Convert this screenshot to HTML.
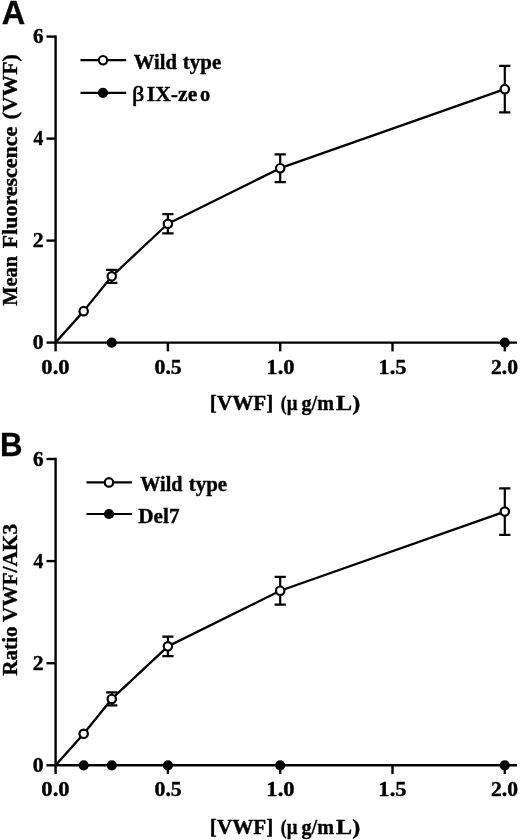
<!DOCTYPE html>
<html lang="en"><head><meta charset="utf-8"><title>Figure</title>
<style>
html,body{margin:0;padding:0;background:#fff;}
svg{display:block;filter:blur(0.35px);}
.t{font-family:"Liberation Serif","DejaVu Serif",serif;font-weight:bold;font-size:20.3px;fill:#000;stroke:#000;stroke-width:0.35px;}
.r{font-family:"Liberation Serif","DejaVu Serif",serif;font-weight:normal;font-size:20.5px;fill:#000;stroke:#000;stroke-width:0.7px;}
.d{font-family:"Liberation Serif","DejaVu Serif",serif;font-weight:bold;font-size:21px;fill:#000;stroke:#000;stroke-width:0.4px;}
.p{font-family:"Liberation Sans","DejaVu Sans",sans-serif;font-weight:bold;font-size:33px;fill:#000;stroke:#000;stroke-width:0.3px;}
</style></head><body>
<svg width="520" height="840" viewBox="0 0 520 840">
<rect width="520" height="840" fill="#fff"/>
<path d="M55.60 35.40V342.60H517" fill="none" stroke="#000" stroke-width="2.4"/>
<line x1="46.5" x2="55.60" y1="342.60" y2="342.60" stroke="#000" stroke-width="2.4"/>
<text class="d" x="32.88" y="349.40" textLength="10.83" lengthAdjust="spacingAndGlyphs">0</text>
<line x1="46.5" x2="55.60" y1="240.60" y2="240.60" stroke="#000" stroke-width="2.4"/>
<text class="d" x="32.88" y="247.40" textLength="10.83" lengthAdjust="spacingAndGlyphs">2</text>
<line x1="46.5" x2="55.60" y1="138.60" y2="138.60" stroke="#000" stroke-width="2.4"/>
<text class="d" x="33.40" y="145.40" textLength="9.80" lengthAdjust="spacingAndGlyphs">4</text>
<line x1="46.5" x2="55.60" y1="36.60" y2="36.60" stroke="#000" stroke-width="2.4"/>
<text class="d" x="32.90" y="43.40" textLength="10.55" lengthAdjust="spacingAndGlyphs">6</text>
<line x1="55.60" x2="55.60" y1="342.60" y2="351.40" stroke="#000" stroke-width="2.4"/>
<text class="d" x="41.36" y="374.30" textLength="28.17" lengthAdjust="spacingAndGlyphs">0.0</text>
<line x1="167.90" x2="167.90" y1="342.60" y2="351.40" stroke="#000" stroke-width="2.4"/>
<text class="d" x="154.48" y="374.30" textLength="27.29" lengthAdjust="spacingAndGlyphs">0.5</text>
<line x1="280.20" x2="280.20" y1="342.60" y2="351.40" stroke="#000" stroke-width="2.4"/>
<text class="d" x="266.39" y="374.30" textLength="28.14" lengthAdjust="spacingAndGlyphs">1.0</text>
<line x1="392.50" x2="392.50" y1="342.60" y2="351.40" stroke="#000" stroke-width="2.4"/>
<text class="d" x="378.39" y="374.30" textLength="28.14" lengthAdjust="spacingAndGlyphs">1.5</text>
<line x1="504.80" x2="504.80" y1="342.60" y2="351.40" stroke="#000" stroke-width="2.4"/>
<text class="d" x="490.99" y="374.30" textLength="27.03" lengthAdjust="spacingAndGlyphs">2.0</text>
<path d="M55.60 342.60L83.67 311.13L111.75 276.30L167.90 223.77L280.20 168.18L504.80 89.13" fill="none" stroke="#000" stroke-width="2.3" stroke-linejoin="round"/>
<circle cx="83.67" cy="311.13" r="4.2" fill="#fff" stroke="#000" stroke-width="2.2"/>
<path d="M106.15 269.82h11.2M106.15 282.78h11.2M111.75 269.82V282.78" fill="none" stroke="#000" stroke-width="2.2"/>
<circle cx="111.75" cy="276.30" r="4.2" fill="#fff" stroke="#000" stroke-width="2.2"/>
<path d="M162.30 214.08h11.2M162.30 233.46h11.2M167.90 214.08V233.46" fill="none" stroke="#000" stroke-width="2.2"/>
<circle cx="167.90" cy="223.77" r="4.2" fill="#fff" stroke="#000" stroke-width="2.2"/>
<path d="M274.60 154.31h11.2M274.60 182.05h11.2M280.20 154.31V182.05" fill="none" stroke="#000" stroke-width="2.2"/>
<circle cx="280.20" cy="168.18" r="4.2" fill="#fff" stroke="#000" stroke-width="2.2"/>
<path d="M499.20 65.93h11.2M499.20 112.34h11.2M504.80 65.93V112.34" fill="none" stroke="#000" stroke-width="2.2"/>
<circle cx="504.80" cy="89.13" r="4.2" fill="#fff" stroke="#000" stroke-width="2.2"/>
<circle cx="111.75" cy="342.60" r="5.1" fill="#000"/>
<circle cx="504.80" cy="342.60" r="5.1" fill="#000"/>
<line x1="80.5" x2="126.2" y1="60.2" y2="60.2" stroke="#000" stroke-width="2.2"/>
<line x1="80.5" x2="126.2" y1="92.8" y2="92.8" stroke="#000" stroke-width="2.2"/>
<circle cx="103" cy="60.2" r="4.2" fill="#fff" stroke="#000" stroke-width="2.2"/>
<circle cx="103" cy="92.8" r="5.1" fill="#000"/>
<text class="p" x="1.76" y="23.50" textLength="23.47" lengthAdjust="spacingAndGlyphs">A</text>
<text class="t" x="133.75" y="68.50" textLength="43.22" lengthAdjust="spacingAndGlyphs">Wild</text>
<text class="t" x="182.84" y="68.50" textLength="38.35" lengthAdjust="spacingAndGlyphs">type</text>
<text class="r" x="132.16" y="100.80" textLength="11.95" lengthAdjust="spacingAndGlyphs">β</text>
<text class="t" x="146.87" y="100.80" textLength="50.35" lengthAdjust="spacingAndGlyphs">IX-ze</text>
<text class="t" x="199.90" y="100.80" textLength="10.14" lengthAdjust="spacingAndGlyphs">o</text>
<text class="t" transform="translate(16.50 305.50) rotate(-90)" x="-0.25" y="0" textLength="49.83" lengthAdjust="spacingAndGlyphs">Mean</text>
<text class="t" transform="translate(16.50 248.00) rotate(-90)" x="-0.27" y="0" textLength="121.56" lengthAdjust="spacingAndGlyphs">Fluorescence</text>
<text class="t" transform="translate(16.50 118.50) rotate(-90)" x="-0.80" y="0" textLength="64.92" lengthAdjust="spacingAndGlyphs">(VWF)</text>
<text class="t" x="209.85" y="410.40" textLength="63.44" lengthAdjust="spacingAndGlyphs">[VWF]</text>
<text class="t" x="280.85" y="410.40" textLength="5.90" lengthAdjust="spacingAndGlyphs">(</text>
<text class="t" x="286.87" y="410.40" textLength="10.80" lengthAdjust="spacingAndGlyphs">µ</text>
<text class="t" x="301.55" y="410.40" textLength="32.42" lengthAdjust="spacingAndGlyphs">g/m</text>
<text class="t" x="336.10" y="410.40" textLength="24.13" lengthAdjust="spacingAndGlyphs">L)</text>
<path d="M55.60 457.80V765.30H517" fill="none" stroke="#000" stroke-width="2.4"/>
<line x1="46.5" x2="55.60" y1="765.30" y2="765.30" stroke="#000" stroke-width="2.4"/>
<text class="d" x="32.88" y="772.10" textLength="10.83" lengthAdjust="spacingAndGlyphs">0</text>
<line x1="46.5" x2="55.60" y1="663.20" y2="663.20" stroke="#000" stroke-width="2.4"/>
<text class="d" x="32.88" y="670.00" textLength="10.83" lengthAdjust="spacingAndGlyphs">2</text>
<line x1="46.5" x2="55.60" y1="561.10" y2="561.10" stroke="#000" stroke-width="2.4"/>
<text class="d" x="33.40" y="567.90" textLength="9.80" lengthAdjust="spacingAndGlyphs">4</text>
<line x1="46.5" x2="55.60" y1="459.00" y2="459.00" stroke="#000" stroke-width="2.4"/>
<text class="d" x="32.90" y="465.80" textLength="10.55" lengthAdjust="spacingAndGlyphs">6</text>
<line x1="55.60" x2="55.60" y1="765.30" y2="774.10" stroke="#000" stroke-width="2.4"/>
<text class="d" x="41.36" y="796.40" textLength="28.17" lengthAdjust="spacingAndGlyphs">0.0</text>
<line x1="167.90" x2="167.90" y1="765.30" y2="774.10" stroke="#000" stroke-width="2.4"/>
<text class="d" x="154.48" y="796.40" textLength="27.29" lengthAdjust="spacingAndGlyphs">0.5</text>
<line x1="280.20" x2="280.20" y1="765.30" y2="774.10" stroke="#000" stroke-width="2.4"/>
<text class="d" x="266.39" y="796.40" textLength="28.14" lengthAdjust="spacingAndGlyphs">1.0</text>
<line x1="392.50" x2="392.50" y1="765.30" y2="774.10" stroke="#000" stroke-width="2.4"/>
<text class="d" x="378.39" y="796.40" textLength="28.14" lengthAdjust="spacingAndGlyphs">1.5</text>
<line x1="504.80" x2="504.80" y1="765.30" y2="774.10" stroke="#000" stroke-width="2.4"/>
<text class="d" x="490.99" y="796.40" textLength="27.03" lengthAdjust="spacingAndGlyphs">2.0</text>
<path d="M55.60 765.30L83.67 733.80L111.75 698.93L167.90 646.35L280.20 590.71L504.80 511.58" fill="none" stroke="#000" stroke-width="2.3" stroke-linejoin="round"/>
<circle cx="83.67" cy="733.80" r="4.2" fill="#fff" stroke="#000" stroke-width="2.2"/>
<path d="M106.15 692.45h11.2M106.15 705.42h11.2M111.75 692.45V705.42" fill="none" stroke="#000" stroke-width="2.2"/>
<circle cx="111.75" cy="698.93" r="4.2" fill="#fff" stroke="#000" stroke-width="2.2"/>
<path d="M162.30 636.65h11.2M162.30 656.05h11.2M167.90 636.65V656.05" fill="none" stroke="#000" stroke-width="2.2"/>
<circle cx="167.90" cy="646.35" r="4.2" fill="#fff" stroke="#000" stroke-width="2.2"/>
<path d="M274.60 576.82h11.2M274.60 604.59h11.2M280.20 576.82V604.59" fill="none" stroke="#000" stroke-width="2.2"/>
<circle cx="280.20" cy="590.71" r="4.2" fill="#fff" stroke="#000" stroke-width="2.2"/>
<path d="M499.20 488.35h11.2M499.20 534.81h11.2M504.80 488.35V534.81" fill="none" stroke="#000" stroke-width="2.2"/>
<circle cx="504.80" cy="511.58" r="4.2" fill="#fff" stroke="#000" stroke-width="2.2"/>
<circle cx="83.67" cy="765.30" r="5.1" fill="#000"/>
<circle cx="111.75" cy="765.30" r="5.1" fill="#000"/>
<circle cx="167.90" cy="765.30" r="5.1" fill="#000"/>
<circle cx="280.20" cy="765.30" r="5.1" fill="#000"/>
<circle cx="504.80" cy="765.30" r="5.1" fill="#000"/>
<line x1="86.5" x2="131.9" y1="482.4" y2="482.4" stroke="#000" stroke-width="2.2"/>
<line x1="86.5" x2="131.9" y1="514" y2="514" stroke="#000" stroke-width="2.2"/>
<circle cx="109" cy="482.4" r="4.2" fill="#fff" stroke="#000" stroke-width="2.2"/>
<circle cx="109" cy="514" r="5.1" fill="#000"/>
<text class="p" x="0.01" y="455.60" textLength="22.51" lengthAdjust="spacingAndGlyphs">B</text>
<text class="t" x="140.25" y="490.90" textLength="42.22" lengthAdjust="spacingAndGlyphs">Wild</text>
<text class="t" x="188.74" y="490.90" textLength="38.45" lengthAdjust="spacingAndGlyphs">type</text>
<text class="t" x="138.24" y="523.40" textLength="41.36" lengthAdjust="spacingAndGlyphs">Del7</text>
<text class="t" transform="translate(16.50 675.50) rotate(-90)" x="-0.26" y="0" textLength="49.36" lengthAdjust="spacingAndGlyphs">Ratio</text>
<text class="t" transform="translate(16.50 622.00) rotate(-90)" x="0.00" y="0" textLength="98.04" lengthAdjust="spacingAndGlyphs">VWF/AK3</text>
<text class="t" x="209.85" y="833.70" textLength="63.44" lengthAdjust="spacingAndGlyphs">[VWF]</text>
<text class="t" x="280.85" y="833.70" textLength="5.90" lengthAdjust="spacingAndGlyphs">(</text>
<text class="t" x="286.87" y="833.70" textLength="10.80" lengthAdjust="spacingAndGlyphs">µ</text>
<text class="t" x="301.55" y="833.70" textLength="32.42" lengthAdjust="spacingAndGlyphs">g/m</text>
<text class="t" x="336.10" y="833.70" textLength="24.13" lengthAdjust="spacingAndGlyphs">L)</text>
</svg>
</body></html>
